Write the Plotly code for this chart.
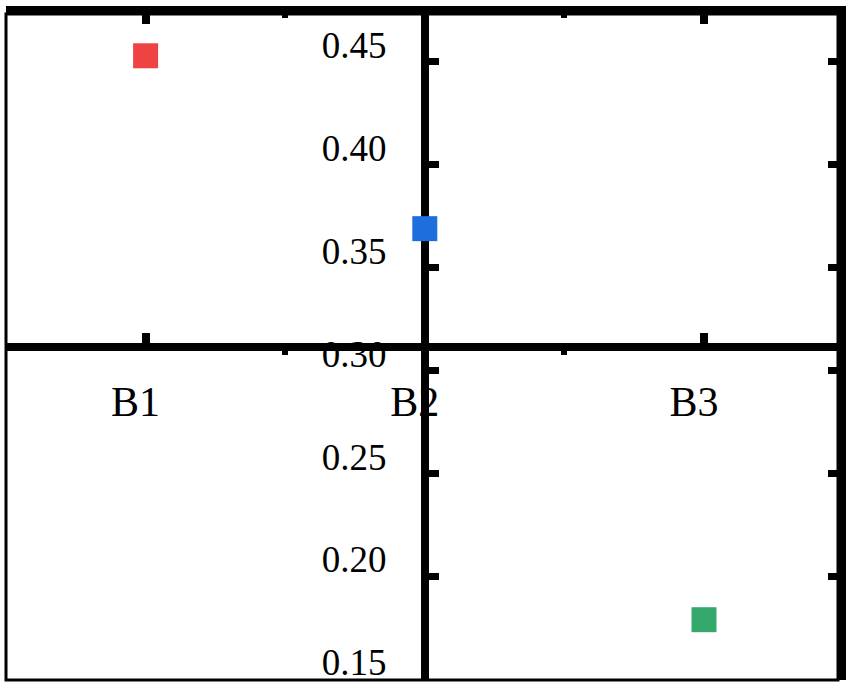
import plotly.graph_objects as go

# Data
CATEGORIES = ["B1", "B2", "B3"]
VALUES = [0.453, 0.369, 0.179]
COLORS = ["#EF4343", "#1C6FDD", "#34A96B"]

Y_TICKS = [0.15, 0.20, 0.25, 0.30, 0.35, 0.40, 0.45]
MINOR_X = [0.5, 1.5]

X_RANGE = [-0.5, 2.48]
Y_RANGE = [0.1497, 0.4733]

FONT = "Liberation Serif"
x_pos = list(range(len(CATEGORIES)))

fig = go.Figure()
# empty trace so the frame subplot (x/y) gets drawn
fig.add_trace(go.Scatter(x=[], y=[], mode="markers", showlegend=False, hoverinfo="skip"))
# data sits on the crossing (middle) axes
fig.add_trace(go.Scatter(
    x=x_pos, y=VALUES,
    xaxis="x2", yaxis="y2",
    mode="markers",
    marker=dict(symbol="square", size=25, color=COLORS, line=dict(width=0)),
    showlegend=False,
    hoverinfo="skip",
))

# y axis crosses at B2
y_cross = (x_pos[1] - X_RANGE[0]) / (X_RANGE[1] - X_RANGE[0])

common = dict(showgrid=False, zeroline=False, showline=True, linecolor="black")

fig.update_layout(
    width=854, height=687,
    paper_bgcolor="white", plot_bgcolor="white",
    margin=dict(l=6, r=16, t=14, b=7, autoexpand=False),
    showlegend=False,
    # frame axes (top / right)
    xaxis=dict(
        **common,
        anchor="y", side="top",
        range=X_RANGE,
        tickmode="array", tickvals=x_pos, showticklabels=False,
        ticks="inside", ticklen=10, tickwidth=8, tickcolor="black",
        linewidth=8,
        minor=dict(tickmode="array", tickvals=MINOR_X, ticks="inside",
                   ticklen=4, tickwidth=6, tickcolor="black", showgrid=False),
    ),
    yaxis=dict(
        **common,
        anchor="x", side="right",
        range=Y_RANGE,
        tickmode="array", tickvals=Y_TICKS, showticklabels=False,
        ticks="inside", ticklen=10, tickwidth=7, tickcolor="black",
        linewidth=8,
    ),
    # middle axes
    xaxis2=dict(
        **common,
        overlaying="x", anchor="free", position=0.5, side="bottom",
        range=X_RANGE,
        tickmode="array", tickvals=x_pos, ticktext=CATEGORIES,
        ticks="inside", ticklen=10, tickwidth=8, tickcolor="black",
        linewidth=8,
        minor=dict(tickmode="array", tickvals=MINOR_X, ticks="outside",
                   ticklen=4, tickwidth=6, tickcolor="black", showgrid=False),
        tickfont=dict(family=FONT, size=42, color="black"),
        ticklabelstandoff=15, ticklabelshift=-10,
        layer="below traces",
    ),
    yaxis2=dict(
        **common,
        overlaying="y", anchor="free", position=y_cross, side="left",
        range=Y_RANGE,
        tickmode="array", tickvals=Y_TICKS, tickformat=".2f",
        ticks="inside", ticklen=10, tickwidth=7, tickcolor="black",
        linewidth=8,
        tickfont=dict(family=FONT, size=37, color="black"),
        ticklabelstandoff=27, ticklabelshift=-17,
        layer="below traces",
    ),
    shapes=[dict(type="rect", xref="paper", yref="paper", x0=0, x1=1, y0=0, y1=1,
                 line=dict(color="black", width=3), layer="below")],
)

# drop the page's default body margin so the figure sits at the window corner
fig.write_html("out.html", config={"displayModeBar": False},
               post_script="document.body.style.margin='0';")
